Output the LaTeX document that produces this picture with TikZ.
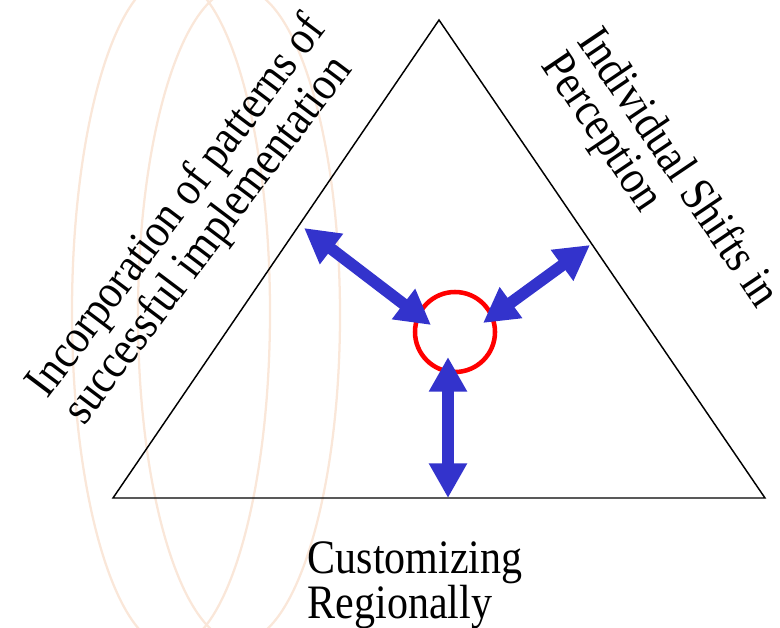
\documentclass[tikz,border=0pt]{standalone}
\usepackage{fontspec}
\setmainfont{Liberation Serif}
\usetikzlibrary{arrows.meta}
\definecolor{lensline}{RGB}{250,231,217}
\definecolor{arrowblue}{RGB}{51,51,204}

\begin{document}
\begin{tikzpicture}[x=0.75pt, y=-0.75pt,
  bgarc/.style = {draw=lensline, line width=1.7pt},
  dbl/.style = {draw=arrowblue, line width=8.8pt,
    {Triangle[length=26pt,width=27pt]}-{Triangle[length=26pt,width=27pt]}},
  lbl/.style = {align=left, inner sep=0pt, xscale=0.875, font=\fontsize{36}{32}\selectfont}]
  \useasboundingbox (0,0) rectangle (780,627);
  % faint ovals in the back
  \begin{scope}
    \clip (0,0) rectangle (780,627);
    \coordinate (ovala) at (171,312);
    \coordinate (ovalb) at (239,315);
    \draw[bgarc] (ovala) ellipse [x radius=99, y radius=335];
    \draw[bgarc] (ovalb) ellipse [x radius=101, y radius=327];
  \end{scope}
  % triangle
  \coordinate (apex) at (439,20);
  \coordinate (bl) at (113,498);
  \coordinate (br) at (765,498);
  \draw[line width=1.1pt, line join=miter] (apex) -- (bl) -- (br) -- cycle;
  % centre ring
  \node[draw=red, line width=3.4pt, circle, minimum size=60pt, inner sep=0pt] (hub) at (455,332) {};
  % arrows
  \coordinate (ul) at (304,228);
  \coordinate (uli) at (431,325);
  \coordinate (ur) at (590,245);
  \coordinate (uri) at (483,323);
  \coordinate (dn) at (448,498);
  \coordinate (dni) at (448,357);
  \draw[dbl] (ul) -- (uli);
  \draw[dbl] (ur) -- (uri);
  \draw[dbl] (dn) -- (dni);
  % labels
  \node[rotate=53, lbl] (incorp) at (196,221) {Incorporation of patterns of\\successful implementation};
  \node[rotate=-56, lbl] (shifts) at (659,181) {Individual Shifts in\\Perception};
  \node[lbl] (custom) at (415,585) {Customizing\\Regionally};
\end{tikzpicture}
\end{document}
